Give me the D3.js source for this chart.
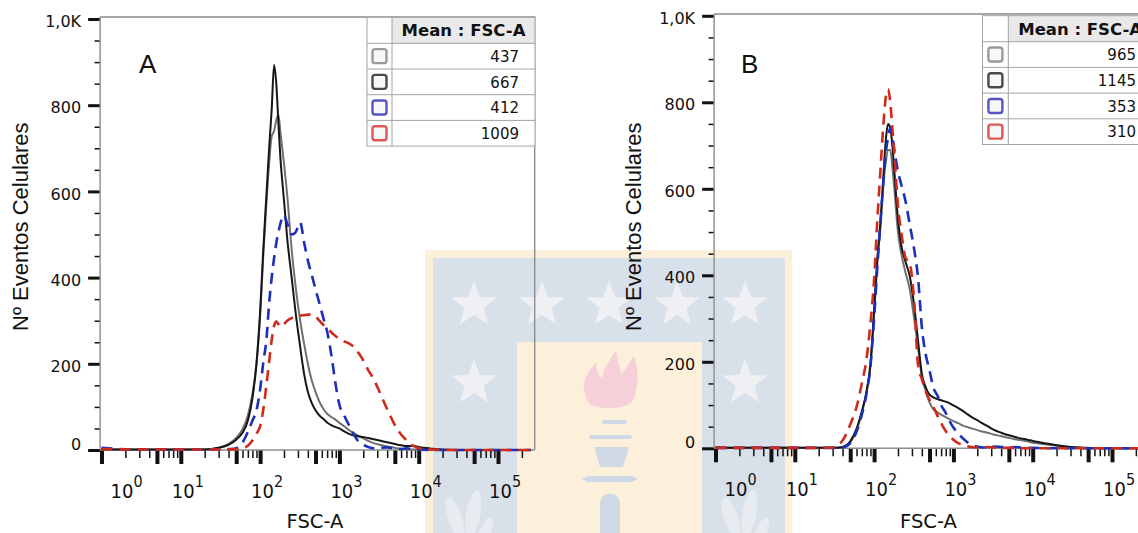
<!DOCTYPE html>
<meta charset="utf-8">
<head>
<meta charset="utf-8">
<script src="https://d3js.org/d3.v7.min.js"></script>
<style>
  body { margin: 0; background: #fff; }
  svg { display: block; }
</style>
</head>
<body>
<svg width="1138" height="533"></svg>
<script>
// FSC-A bins shared by every histogram
var fscBins = [1, 3, 10, 20, 30, 40, 50, 60, 70, 80, 90, 100, 110, 120, 130, 140, 150, 160, 170, 180,
  200, 220, 250, 280, 320, 360, 400, 450, 500, 560, 630, 700, 800, 900, 1000, 1150, 1300, 1500, 1700, 2000,
  2300, 2700, 3200, 4000, 5000, 6000, 7000, 8500, 10000, 15000, 30000, 100000, 260000];

// panel A counts
var grayA = [2, 1, 1, 1, 5, 14, 28, 48, 80, 130, 200, 310, 455, 570, 665, 728, 740, 765, 778, 740,
  665, 590, 465, 380, 300, 245, 200, 160, 135, 112, 95, 84, 76, 70, 63, 55, 47, 40, 34, 27,
  21, 16, 12, 8, 5, 3, 2, 1, 1, 0, 0, 0, 0];
var blackA = [2, 1, 1, 1, 5, 12, 24, 40, 68, 120, 200, 320, 470, 590, 700, 790, 893, 850, 760, 680,
  580, 490, 400, 320, 240, 175, 135, 108, 92, 80, 72, 64, 57, 53, 50, 43, 38, 34, 32, 30,
  28, 25, 22, 18, 14, 11, 9, 10, 7, 3, 0, 0, 0];
var blueA = [5, 1, 1, 1, 1, 2, 4, 17, 42, 68, 92, 140, 205, 255, 340, 400, 445, 480, 505, 525,
  545, 525, 500, 505, 528, 480, 440, 405, 373, 340, 305, 275, 215, 150, 105, 80, 60, 38, 22, 12,
  7, 4, 5, 6, 3, 2, 4, 2, 1, 0, 0, 0, 0];
var redA = [2, 1, 1, 1, 1, 1, 2, 4, 10, 22, 38, 55, 95, 150, 205, 255, 288, 298, 292, 286,
  292, 300, 306, 310, 312, 313, 314, 314, 310, 300, 290, 283, 272, 264, 258, 252, 248, 240, 228, 208,
  186, 165, 135, 95, 58, 36, 23, 10, 4, 1, 0, 0, 0];

// panel B counts
var grayB = [1, 1, 1, 1, 1, 3, 14, 42, 82, 128, 190, 310, 430, 510, 600, 660, 690, 690, 650, 600,
  500, 450, 405, 370, 300, 230, 165, 132, 106, 90, 83, 78, 72, 67, 63, 58, 53, 49, 46, 42,
  39, 36, 32, 28, 24, 21, 19, 16, 13, 9, 2, 0, 0];
var blackB = [2, 1, 1, 1, 1, 3, 16, 45, 85, 130, 195, 320, 440, 520, 620, 710, 750, 740, 700, 640,
  530, 470, 430, 400, 330, 245, 172, 140, 124, 118, 114, 111, 108, 104, 99, 93, 87, 79, 72, 65,
  58, 51, 43, 36, 30, 26, 23, 20, 17, 11, 3, 0, 0];
var blueB = [1, 1, 1, 1, 1, 2, 12, 38, 78, 125, 190, 300, 420, 520, 610, 680, 720, 740, 720, 690,
  640, 610, 570, 520, 460, 390, 280, 215, 180, 140, 122, 100, 82, 62, 48, 35, 24, 14, 8, 4,
  2, 3, 4, 3, 2, 3, 2, 1, 1, 0, 0, 0, 0];
var redB = [1, 1, 1, 1, 2, 18, 55, 95, 150, 205, 290, 390, 530, 640, 740, 810, 830, 800, 740, 680,
  560, 500, 440, 430, 340, 190, 160, 130, 112, 96, 75, 58, 40, 28, 20, 12, 8, 5, 3, 2,
  2, 3, 2, 1, 1, 1, 0, 0, 0, 0, 0, 0, 0];

var meansA = [437, 667, 412, 1009];
var meansB = [965, 1145, 353, 310];

var yTicks = d3.range(0, 1001, 50);
var decades = [1, 10, 100, 1000, 10000, 100000];

var svg = d3.select("svg");

// --- faint logo watermark behind the plots ---
var wm = svg.append("g");
wm.append("rect").attr("x", 425).attr("y", 250).attr("width", 367).attr("height", 290).attr("fill", "#fdf0da");
wm.append("rect").attr("x", 433).attr("y", 258).attr("width", 352).attr("height", 280).attr("fill", "#d8e0ea");
wm.append("rect").attr("x", 517).attr("y", 342).attr("width", 185).attr("height", 200).attr("fill", "#fdf0da");
function starPath(cx, cy, R, r) {
  var pts = [];
  for (var i = 0; i < 10; i++) {
    var a = (-90 + i * 36) * Math.PI / 180;
    var rad = i % 2 ? r : R;
    pts.push([cx + rad * Math.cos(a), cy + rad * Math.sin(a)]);
  }
  return "M" + pts.join("L") + "Z";
}
[[474, 305], [542, 305], [609, 305], [677, 305], [745, 305], [474, 383], [745, 383]].forEach(function(s) {
  wm.append("path").attr("d", starPath(s[0], s[1], 24, 10)).attr("fill", "#eef0f3");
});
// torch
wm.append("path").attr("fill", "#f6d0d8")
  .attr("d", "M584,392 C582,378 590,370 596,362 C596,372 600,376 602,378 C604,366 612,358 616,350 C618,362 620,370 622,374 C626,368 630,362 634,356 C640,372 638,392 632,402 C624,410 594,410 588,402 Z");
wm.append("rect").attr("x", 602).attr("y", 420).attr("width", 25).attr("height", 4).attr("rx", 2).attr("fill", "#cfd9e6");
wm.append("rect").attr("x", 589).attr("y", 435).attr("width", 43).attr("height", 4).attr("rx", 2).attr("fill", "#cfd9e6");
wm.append("path").attr("d", "M594,447 L629,447 L623,467 L600,467 Z").attr("fill", "#cfd9e6");
wm.append("path").attr("d", "M582,479 L588,476 L632,476 L638,479 L632,482 L588,482 Z").attr("fill", "#cfd9e6");
wm.append("path").attr("d", "M600,533 L600,504 C600,490 620,490 620,504 L620,533 Z").attr("fill", "#cfd9e6");
// leaves at the bottom corners
[[462, 0], [738, 0]].forEach(function(l) {
  var g = wm.append("g").attr("transform", "translate(" + l[0] + ",520)");
  g.append("ellipse").attr("cx", -6).attr("cy", -4).attr("rx", 7).attr("ry", 22).attr("transform", "rotate(-18)").attr("fill", "#e8ecf1");
  g.append("ellipse").attr("cx", 10).attr("cy", -8).attr("rx", 7).attr("ry", 24).attr("transform", "rotate(10)").attr("fill", "#e8ecf1");
  g.append("ellipse").attr("cx", 26).attr("cy", 4).attr("rx", 6).attr("ry", 18).attr("transform", "rotate(24)").attr("fill", "#e8ecf1");
});

// --- panels ---
var seriesStyle = [
  { color: "#707070", dash: null, width: 2, swatch: "#9a9a9a" },
  { color: "#161616", dash: null, width: 2, swatch: "#4a4a4a" },
  { color: "#1d2fb8", dash: "11,7", width: 2.6, swatch: "#5454c8" },
  { color: "#d02a1c", dash: "11,7", width: 2.6, swatch: "#df5656" }
];

var panels = [
  { letter: "A", x0: 101.5, y0: 450, y1: 19, frameTop: 17, series: [grayA, blackA, blueA, redA], means: meansA,
    titleX: 20.5, fscX: 315, letterX: 139, legLeft: 367, legSplit: 392, legRight: 535, legTop: 17.3 },
  { letter: "B", x0: 715.5, y0: 448.3, y1: 15.8, frameTop: 14, series: [grayB, blackB, blueB, redB], means: meansB,
    titleX: 633.5, fscX: 928.5, letterX: 741, legLeft: 982.5, legSplit: 1008.3, legRight: 1152, legTop: 15.7 }
];

function mult(d) { return Math.round(d / Math.pow(10, Math.floor(Math.log10(d) + 1e-9))); }

panels.forEach(function(p) {
  var decade = 79.3;
  var x = d3.scaleLog().domain([1, 1e5]).range([p.x0, p.x0 + decade * 5]);
  var y = d3.scaleLinear().domain([0, 1000]).range([p.y0, p.y1]);
  var left = x(0.96), right = x(290000);
  var g = svg.append("g");

  // frame (top and right)
  g.append("path")
    .attr("d", "M" + left + "," + p.frameTop + "L" + right + "," + p.frameTop + "L" + right + "," + p.y0)
    .attr("fill", "none").attr("stroke", "#8c8c8c").attr("stroke-width", 1.4);

  // x axis: log ticks 1..9 per decade, thick at 1 and 5
  var xt = [];
  decades.forEach(function(d) { for (var m = 1; m <= 9; m++) if (d * m <= 290000) xt.push(d * m); });
  var xAxis = g.append("g").attr("transform", "translate(0," + p.y0 + ")")
    .call(d3.axisBottom(x).tickValues(xt).tickFormat(""));
  xAxis.select(".domain").remove();
  xAxis.selectAll(".tick line")
    .attr("stroke", "#111")
    .attr("y2", function(d) { var m = mult(d); return (m === 1 || m === 5) ? 14 : 8; })
    .attr("stroke-width", function(d) { var m = mult(d); return (m === 1 || m === 5) ? 4 : 1.5; });
  xAxis.selectAll(".tick text").remove();
  g.append("line").attr("x1", left).attr("x2", right).attr("y1", p.y0).attr("y2", p.y0)
    .attr("stroke", "#8c8c8c").attr("stroke-width", 1.4);

  // decade labels
  decades.forEach(function(d, i) {
    var t = g.append("text")
      .attr("x", x(d) - 9 + (i === 0 ? 18 : 0)).attr("y", p.y0 + 48)
      .attr("font-family", "'Liberation Sans Narrow', 'DejaVu Sans Condensed', sans-serif")
      .attr("font-size", 20).attr("fill", "#111");
    t.append("tspan").text("10");
    t.append("tspan").attr("dy", -11).attr("font-size", 16).text(i);
  });

  // y axis
  var yAxis = g.append("g").attr("transform", "translate(" + left + ",0)")
    .call(d3.axisLeft(y).tickValues(yTicks)
      .tickFormat(function(v) { return v === 1000 ? "1,0K" : (v % 200 === 0 ? v : ""); }));
  yAxis.select(".domain").remove();
  yAxis.selectAll(".tick line")
    .attr("stroke", "#111")
    .attr("x2", function(v) { return v % 200 === 0 ? -12 : -5.5; })
    .attr("stroke-width", function(v) { return v % 200 === 0 ? 3 : 1.5; });
  yAxis.selectAll(".tick text")
    .attr("x", -19).attr("dy", function(v) { return v === 0 ? "-0.05em" : "0.48em"; })
    .attr("font-family", "'DejaVu Sans', sans-serif").attr("font-size", 16).attr("fill", "#111");
  g.append("line").attr("x1", left).attr("x2", left).attr("y1", p.frameTop).attr("y2", p.y0)
    .attr("stroke", "#8c8c8c").attr("stroke-width", 1.4);

  // histograms
  var line = d3.line()
    .x(function(d) { return x(d[0]); })
    .y(function(d) { return y(d[1]); })
    .curve(d3.curveMonotoneX);
  p.series.forEach(function(counts, k) {
    var s = seriesStyle[k];
    g.append("path")
      .datum(fscBins.map(function(b, i) { return [b, counts[i]]; }))
      .attr("d", line)
      .attr("fill", "none")
      .attr("stroke", s.color)
      .attr("stroke-width", s.width)
      .attr("stroke-dasharray", s.dash)
      .attr("stroke-linejoin", "round");
  });

  // panel letter and titles
  g.append("text").attr("x", p.letterX).attr("y", 73)
    .attr("font-family", "'Liberation Sans', Arial, sans-serif").attr("font-size", 26).attr("fill", "#111")
    .text(p.letter);
  g.append("text").attr("x", p.fscX).attr("y", 528).attr("text-anchor", "middle")
    .attr("font-family", "'DejaVu Sans', sans-serif").attr("font-size", 19.5).attr("fill", "#111")
    .text("FSC-A");
  g.append("text")
    .attr("transform", "translate(" + p.titleX + ",226.7) rotate(-90)")
    .attr("text-anchor", "middle").attr("dominant-baseline", "central")
    .attr("font-family", "'Liberation Sans', Arial, sans-serif").attr("font-size", 22).attr("fill", "#111")
    .text("Nº Eventos Celulares");

  // legend table
  var leg = g.append("g");
  var headH = 26, rowH = 25.7;
  var bottom = p.legTop + headH + rowH * 4;
  leg.append("rect").attr("x", p.legLeft).attr("y", p.legTop)
    .attr("width", p.legRight - p.legLeft).attr("height", bottom - p.legTop).attr("fill", "#fff");
  leg.append("rect").attr("x", p.legSplit).attr("y", p.legTop)
    .attr("width", p.legRight - p.legSplit).attr("height", headH).attr("fill", "#e9e9e9");
  leg.append("text").attr("x", (p.legSplit + p.legRight) / 2).attr("y", p.legTop + 19)
    .attr("text-anchor", "middle").attr("font-family", "'DejaVu Sans', sans-serif")
    .attr("font-weight", "bold").attr("font-size", 16.5).attr("fill", "#111")
    .text("Mean : FSC-A");
  p.means.forEach(function(m, k) {
    var top = p.legTop + headH + rowH * k;
    leg.append("rect")
      .attr("x", (p.legLeft + p.legSplit) / 2 - 7).attr("y", top + rowH / 2 - 7)
      .attr("width", 14).attr("height", 14).attr("rx", 2.5)
      .attr("fill", "#f7f7f7").attr("stroke", seriesStyle[k].swatch).attr("stroke-width", 2.4);
    leg.append("text").attr("x", p.legRight - 16).attr("y", top + 18.5)
      .attr("text-anchor", "end").attr("font-family", "'DejaVu Sans', sans-serif")
      .attr("font-size", 15).attr("fill", "#111")
      .text(m);
    leg.append("line").attr("x1", p.legLeft).attr("x2", p.legRight).attr("y1", top).attr("y2", top)
      .attr("stroke", "#a3a3a3").attr("stroke-width", 1);
  });
  leg.append("rect").attr("x", p.legLeft).attr("y", p.legTop)
    .attr("width", p.legRight - p.legLeft).attr("height", bottom - p.legTop)
    .attr("fill", "none").attr("stroke", "#a3a3a3").attr("stroke-width", 1);
  leg.append("line").attr("x1", p.legSplit).attr("x2", p.legSplit).attr("y1", p.legTop).attr("y2", bottom)
    .attr("stroke", "#a3a3a3").attr("stroke-width", 1);
});
</script>
</body>
